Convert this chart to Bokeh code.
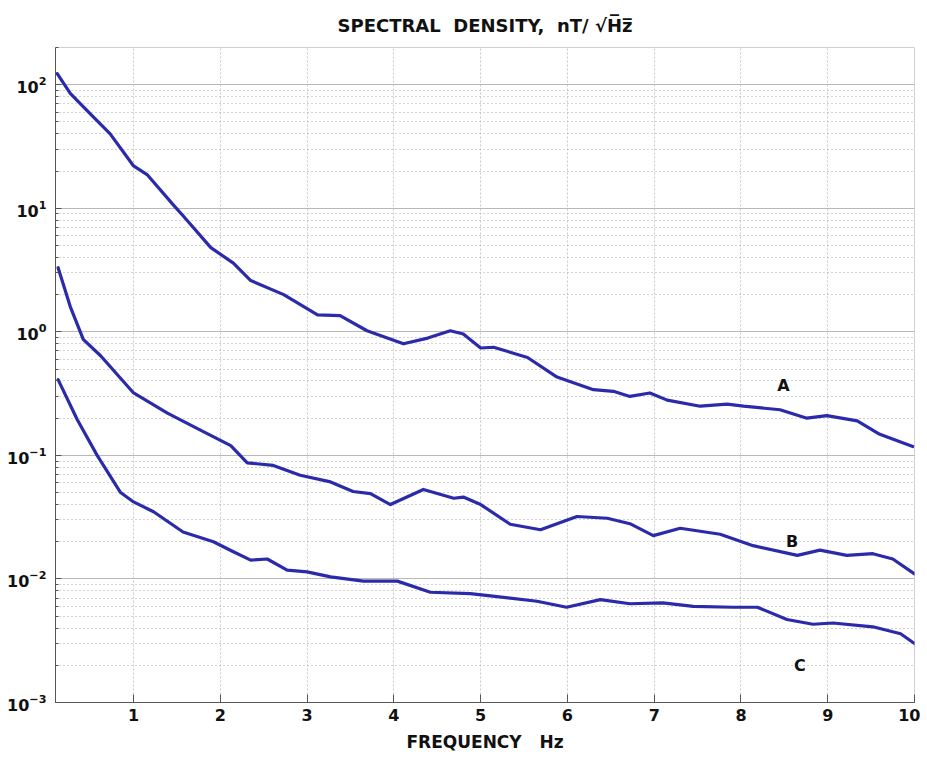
from bokeh.plotting import figure
from bokeh.models import FixedTicker, Range1d
from bokeh.core.properties import value
from bokeh.embed import file_html
from bokeh.resources import INLINE

# ---- data ----
freq_A = [0.12, 0.27, 0.47, 0.73, 1.0, 1.16, 1.46, 1.57, 1.89, 2.15, 2.35, 2.73, 3.12, 3.38,
          3.69, 4.11, 4.39, 4.65, 4.8, 5.0, 5.15, 5.54, 5.88, 6.3, 6.53, 6.72, 6.95, 7.15,
          7.53, 7.84, 8.03, 8.45, 8.76, 8.99, 9.34, 9.6, 9.98]
dens_A = [123, 85, 61, 40, 22, 18.6, 10.6, 8.7, 4.8, 3.6, 2.6, 2.0, 1.37, 1.35,
          1.02, 0.80, 0.89, 1.02, 0.96, 0.74, 0.75, 0.62, 0.43, 0.34, 0.33, 0.30, 0.32, 0.28,
          0.25, 0.26, 0.25, 0.234, 0.20, 0.21, 0.19, 0.148, 0.118]

freq_B = [0.13, 0.27, 0.42, 0.62, 1.0, 1.39, 1.77, 2.12, 2.31, 2.61, 2.92, 3.27, 3.53, 3.73,
          3.96, 4.34, 4.69, 4.8, 5.0, 5.34, 5.69, 6.11, 6.46, 6.72, 6.99, 7.3, 7.76, 8.14,
          8.65, 8.91, 9.22, 9.52, 9.75, 10.0]
dens_B = [3.3, 1.6, 0.87, 0.64, 0.32, 0.22, 0.16, 0.12, 0.087, 0.083, 0.069, 0.061, 0.051, 0.049,
          0.040, 0.053, 0.045, 0.046, 0.040, 0.0277, 0.025, 0.032, 0.031, 0.028, 0.0224, 0.0257,
          0.023, 0.0186, 0.0155, 0.0171, 0.0155, 0.016, 0.0145, 0.011]

freq_C = [0.13, 0.35, 0.58, 0.85, 1.0, 1.23, 1.57, 1.92, 2.15, 2.35, 2.54, 2.77, 3.0, 3.27,
          3.65, 4.04, 4.42, 4.88, 5.19, 5.65, 5.99, 6.38, 6.72, 7.1, 7.45, 7.91, 8.19, 8.53,
          8.83, 9.06, 9.52, 9.84, 10.0]
dens_C = [0.41, 0.195, 0.10, 0.050, 0.042, 0.035, 0.024, 0.020, 0.0166, 0.0142, 0.0145, 0.0118,
          0.0114, 0.0104, 0.0096, 0.0096, 0.0078, 0.0076, 0.0072, 0.0066, 0.0059, 0.0068, 0.0063,
          0.0064, 0.0060, 0.0059, 0.0059, 0.0047, 0.0043, 0.0044, 0.0041, 0.0036, 0.0030]

curve_names = ["A", "B", "C"]
label_freq = [8.49, 8.59, 8.68]
label_dens = [0.37, 0.020, 0.0020]

x_ticks = [1, 2, 3, 4, 5, 6, 7, 8, 9, 10]
x_limits = (0.1, 10)
y_limits = (1e-3, 200)

NB = "\u00a0"
TITLE = "SPECTRAL" + NB + NB + "DENSITY," + NB + NB + "nT/" + NB + "\u221aH\u0305z\u0305"
XLABEL = "FREQUENCY" + NB + NB + NB + "Hz"
FONT = "DejaVu Sans"
LINE = "#2a2aaa"
INK = "#111111"

p = figure(width=920, height=756, y_axis_type="log",
           x_range=Range1d(*x_limits), y_range=Range1d(*y_limits),
           output_backend="svg", toolbar_location=None,
           min_border_left=55, min_border_right=6, min_border_top=45, min_border_bottom=54)

p.title.text = TITLE
p.title.align = "center"
p.title.text_font = FONT
p.title.text_font_size = "18px"
p.title.text_font_style = "bold"
p.title.text_color = INK
p.title.standoff = 24

p.outline_line_color = "#d0d0d0"
p.background_fill_color = "white"

# x axis
p.xaxis.ticker = FixedTicker(ticks=x_ticks)
p.xaxis.axis_label = XLABEL
p.xaxis.axis_label_text_font = FONT
p.xaxis.axis_label_text_font_size = "17px"
p.xaxis.axis_label_text_font_style = "bold"
p.xaxis.axis_label_text_color = INK
p.xaxis.axis_label_standoff = 8
p.xaxis.major_label_text_font = FONT
p.xaxis.major_label_text_font_size = "16px"
p.xaxis.major_label_text_font_style = "bold"
p.xaxis.major_label_text_color = INK
p.xaxis.major_label_standoff = 6
p.xaxis.major_tick_in = 8
p.xaxis.major_tick_out = 0
p.xaxis.minor_tick_line_color = None
p.xaxis.axis_line_color = "#555555"
p.xaxis.major_tick_line_color = "#555555"

# y axis
p.yaxis.ticker.num_minor_ticks = 10
p.yaxis.major_label_text_font = FONT
p.yaxis.major_label_text_font_size = "16px"
p.yaxis.major_label_text_font_style = "bold"
p.yaxis.major_label_text_color = INK
p.yaxis.major_label_standoff = 9
p.yaxis.major_tick_in = 6
p.yaxis.major_tick_out = 0
p.yaxis.minor_tick_in = 3
p.yaxis.minor_tick_out = 0
p.yaxis.axis_line_color = "#555555"
p.yaxis.major_tick_line_color = "#555555"
p.yaxis.minor_tick_line_color = "#555555"

# grids
p.xgrid.ticker = FixedTicker(ticks=x_ticks)
p.xgrid.grid_line_color = "#c8c8c8"
p.xgrid.grid_line_dash = "2 2"
p.ygrid.grid_line_color = "#b8b8b8"
p.ygrid.minor_grid_line_color = "#a8a8a8"
p.ygrid.minor_grid_line_dash = "1 3"

for fx, dy in ((freq_A, dens_A), (freq_B, dens_B), (freq_C, dens_C)):
    p.line(fx, dy, line_color=LINE, line_width=3.2, line_join="round", line_cap="round")

p.text(x=label_freq, y=label_dens, text=curve_names, text_font=value(FONT),
       text_font_size="16px", text_font_style="bold", text_color=INK,
       text_align="center", text_baseline="middle")

open("out.html", "w").write(file_html(p, INLINE))
